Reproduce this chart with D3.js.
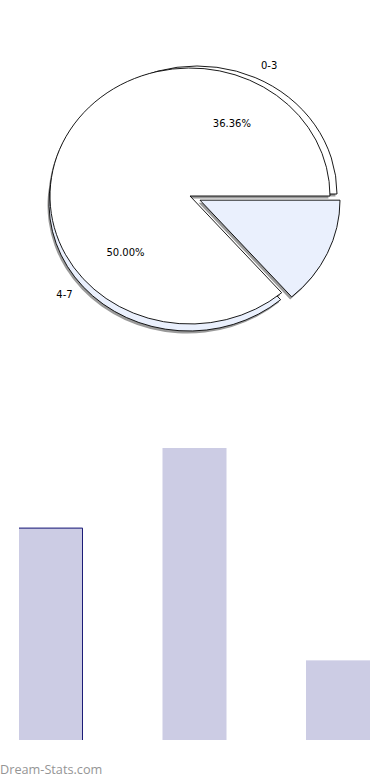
<!DOCTYPE html>
<html>
<head>
<meta charset="utf-8">
<script src="https://cdn.jsdelivr.net/npm/d3@7"></script>
<style>
  body { margin: 0; background: #fff; }
  svg { display: block; }
</style>
</head>
<body>
<svg id="chart"></svg>
<script>
// data
const categories = ["0-3", "4-7", "8+"];
const counts = [8, 11, 3];
const highlighted = "0-3";

const width = 390, height = 780;
const svg = d3.select("#chart").attr("width", width).attr("height", height);

// pie settings
const cx = 190, cy = 196, rx = 140, ry = 128;
const lightBlue = "#eaf0fd";
const backOffset = [[7, -2], [-1, 7], null];   // rim copy behind each slice
const backFill = ["#fff", lightBlue, null];
const explode = [0, 0, 11];
const shadowOff = [-1.5, 2.5];

const total = d3.sum(counts);
const pie = d3.pie().value(d => d).sort(null)
    .startAngle(Math.PI / 2)
    .endAngle(Math.PI / 2 - 2 * Math.PI);
const arcs = pie(counts);
const arc = d3.arc().innerRadius(0).outerRadius(rx);

const defs = svg.append("defs");
defs.append("filter").attr("id", "blur")
  .append("feGaussianBlur").attr("stdDeviation", 0.7);

const pieG = svg.append("g").attr("transform", `translate(${cx},${cy})`);

function midAngle(d) { return (d.startAngle + d.endAngle) / 2; }
function offsetOf(d, i) {
  const a = midAngle(d), e = explode[i];
  return [Math.sin(a) * e, -Math.cos(a) * e * ry / rx];
}

// draws an arc path squashed into the ellipse
function ellipsePath(parent, pathD, dx, dy) {
  return parent.append("g")
    .attr("transform", `translate(${dx},${dy}) scale(1,${ry / rx})`)
    .append("path")
    .attr("d", pathD)
    .attr("vector-effect", "non-scaling-stroke");
}

// front shapes: first two slices drawn as one outline
const fronts = [
  { d: arc({ startAngle: arcs[0].startAngle, endAngle: arcs[1].endAngle }), off: [0, 0], fill: "#fff" },
  { d: arc(arcs[2]), off: offsetOf(arcs[2], 2), fill: lightBlue }
];
const backs = [];
arcs.forEach((a, i) => {
  if (backOffset[i]) {
    const o = offsetOf(a, i);
    backs.push({ d: arc(a), off: [o[0] + backOffset[i][0], o[1] + backOffset[i][1]], fill: backFill[i] });
  }
});

// shadows
const shadowG = pieG.append("g").attr("filter", "url(#blur)");
backs.concat(fronts).forEach(s => {
  ellipsePath(shadowG, s.d, s.off[0] + shadowOff[0], s.off[1] + shadowOff[1])
    .attr("fill", "#9a9a9a");
});

// rim copies then fronts
backs.concat(fronts).forEach(s => {
  ellipsePath(pieG, s.d, s.off[0], s.off[1])
    .attr("fill", s.fill)
    .attr("stroke", "#000")
    .attr("stroke-width", 0.9);
});

// labels
arcs.forEach((d, i) => {
  const share = d.value / total;
  if (share < 0.2) return;
  const a = midAngle(d);
  const sx = Math.sin(a), sy = -Math.cos(a);
  const o = offsetOf(d, i);
  const b = backOffset[i] || [0, 0];
  pieG.append("text")
    .attr("x", o[0] + b[0] + sx * rx * 0.6)
    .attr("y", o[1] + b[1] + sy * ry * 0.6)
    .attr("text-anchor", "middle")
    .attr("dominant-baseline", "middle")
    .attr("font-family", "DejaVu Sans")
    .attr("font-size", "10px")
    .text((share * 100).toFixed(2) + "%");
  pieG.append("text")
    .attr("x", o[0] + b[0] + sx * rx * 1.1)
    .attr("y", o[1] + b[1] + sy * ry * 1.1)
    .attr("text-anchor", sx >= 0 ? "start" : "end")
    .attr("dominant-baseline", "middle")
    .attr("font-family", "DejaVu Sans")
    .attr("font-size", "10px")
    .text(categories[i]);
});

// bars
const x = d3.scaleBand().domain(categories).range([19, 370]).paddingInner(0.554).paddingOuter(0);
const y = d3.scaleLinear().domain([0, d3.max(counts)]).range([740, 448]);

svg.append("g").selectAll("rect")
  .data(counts)
  .enter()
  .append("rect")
    .attr("x", (d, i) => x(categories[i]))
    .attr("y", d => y(d))
    .attr("width", x.bandwidth())
    .attr("height", d => y(0) - y(d))
    .attr("fill", "#cccce4");

// top and right border on the highlighted bar
const hi = categories.indexOf(highlighted);
const hx0 = x(highlighted), hx1 = hx0 + x.bandwidth(), hy = y(counts[hi]);
svg.append("path")
  .attr("d", `M${hx0},${hy + 0.5}H${hx1 - 0.5}V${y(0)}`)
  .attr("fill", "none")
  .attr("stroke", "#1c1c78")
  .attr("stroke-width", 1);

// watermark
svg.append("text")
  .attr("x", 0)
  .attr("y", 774)
  .attr("font-family", "Open Sans")
  .attr("font-size", "12.7px")
  .attr("fill", "#959595")
  .text("Dream-Stats.com");
</script>
</body>
</html>
